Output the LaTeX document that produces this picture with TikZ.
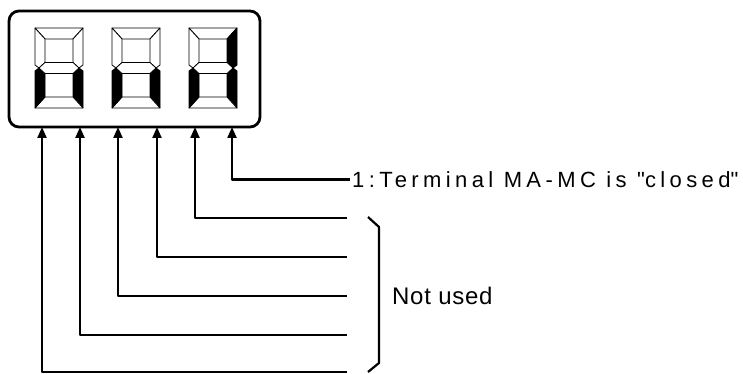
\documentclass[tikz,border=0pt]{standalone}
\usepackage{fontspec}
\setmainfont{Liberation Sans}
\newfontfamily\widefont{Liberation Sans}[LetterSpace=20]
\newfontfamily\tightfont{Liberation Sans}[LetterSpace=3]
\usetikzlibrary{arrows.meta,positioning}

% one seven-segment digit: #1 = left x, #2..#8 = fill of
% top, upper right, lower right, bottom, lower left, upper left, middle
\newcommand{\segdigit}[8]{%
  \begin{scope}[shift={(#1,28)},line width=0.8pt]
    \filldraw[fill=#2] (0,0) -- (48,0) -- (38,11) -- (10,11) -- cycle;
    \filldraw[fill=#3] (48,0) -- (48,37) -- (44,40) -- (38,34.5) -- (38,11) -- cycle;
    \filldraw[fill=#4] (48,80) -- (48,43) -- (44,40) -- (38,45.5) -- (38,69) -- cycle;
    \filldraw[fill=#5] (0,80) -- (48,80) -- (38,69) -- (10,69) -- cycle;
    \filldraw[fill=#6] (0,80) -- (0,43) -- (4,40) -- (10,45.5) -- (10,69) -- cycle;
    \filldraw[fill=#7] (0,0) -- (0,37) -- (4,40) -- (10,34.5) -- (10,11) -- cycle;
    \filldraw[fill=#8] (4,40) -- (10,34.5) -- (38,34.5) -- (44,40) -- (38,45.5) -- (10,45.5) -- cycle;
  \end{scope}}

\tikzset{
  wire/.style={line width=2.2pt,-{Triangle[length=11pt,width=9pt]}},
  tag/.style={anchor=west,inner xsep=2.5pt,inner ysep=2pt}
}

\begin{document}
\begin{tikzpicture}[x=1pt,y=-1pt,line join=round]
  \useasboundingbox (0,0) rectangle (743,374);

  % display window
  \node[draw,line width=2.8pt,rounded corners=10pt,minimum width=251pt,minimum height=116pt,inner sep=0pt] (panel) at (134.5,69) {};
  \segdigit{35}{white}{white}{black}{white}{black}{white}{white}
  \segdigit{112}{white}{white}{black}{white}{black}{white}{white}
  \segdigit{189}{white}{black}{black}{white}{black}{white}{white}

  % texts
  \node[tag,font=\widefont\fontsize{22}{26}\selectfont] (closed) at (349.5,179.5) {1:Terminal MA-MC is \textquotedbl closed\textquotedbl};
  \node[tag,font=\tightfont\fontsize{24}{28}\selectfont] (unused) at (389.5,295.5) {Not used};

  % pins and wires
  \coordinate (pin1) at (232,127);
  \draw[wire] (closed.west) -| (pin1);
  \foreach \i/\x/\y in {2/195/218,3/157/257,4/118/296,5/80/335,6/42/372} {
    \coordinate (end\i) at (347,\y);
    \coordinate (pin\i) at (\x,127);
    \draw[wire] (end\i) -| (pin\i);
  }

  % bracket
  \draw[line width=2.2pt] (368,217) -- (379,227) -- (379,363) -- (368,372);
\end{tikzpicture}
\end{document}
